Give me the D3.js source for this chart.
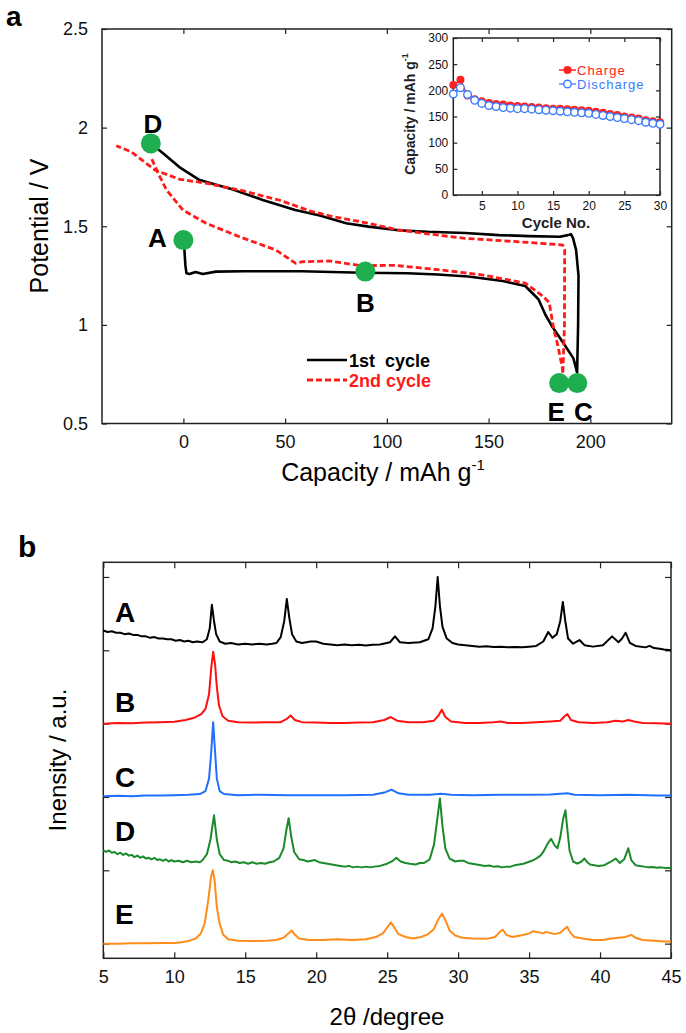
<!DOCTYPE html>
<html>
<head>
<meta charset="utf-8">
<script src="https://cdn.jsdelivr.net/npm/d3@7"></script>
<style>
body { margin: 0; background: #fff; }
svg { font-family: "Liberation Sans", Arial, sans-serif; }
</style>
</head>
<body>
<svg id="fig" width="686" height="1033"></svg>
<script>
// ---- panel a : charge / discharge curves [capacity mAh/g, potential V]
const dis1 = [[0,1.43],[0.5,1.38],[1,1.30],[1.5,1.262],[3,1.258],[6,1.268],[9.5,1.258],[16,1.27],[30,1.272],[58,1.272],[88,1.264],[110,1.262],[125,1.255],[140,1.245],[157,1.222],[168,1.197],[174.5,1.13],[178,1.05],[181,0.996],[187.4,0.898],[191.7,0.83],[193.4,0.763]];
const chg1 = [[193.5,0.755],[194,1.0],[194.2,1.25],[193,1.38],[191.5,1.44],[190.5,1.46],[189,1.455],[185,1.447],[170,1.45],[155,1.455],[138.5,1.466],[120,1.472],[105.7,1.48],[91,1.498],[80,1.515],[67,1.555],[55,1.582],[39,1.633],[22.6,1.692],[8,1.734],[-2,1.80],[-10,1.87],[-16,1.92]];
const dis2 = [[-15.5,1.84],[-12.4,1.768],[-8.3,1.684],[-0.2,1.582],[11.2,1.515],[27.5,1.447],[45.4,1.38],[55.2,1.312],[58.5,1.32],[71.5,1.324],[87.6,1.30],[103.6,1.302],[125,1.28],[146.5,1.254],[168,1.212],[176.6,1.146],[179.8,1.113],[182,0.98],[184,0.896],[186.3,0.78],[186.5,0.755]];
const chg2 = [[186.5,0.76],[187.3,1.0],[187.4,1.38],[186.4,1.405],[170.9,1.417],[138.3,1.439],[122,1.459],[105.7,1.481],[91,1.515],[73,1.55],[63,1.575],[47,1.633],[27.5,1.684],[11.2,1.718],[-1.8,1.738],[-14,1.785],[-25.7,1.878],[-33,1.908]];
const statePoints = [["A",0,1.43],["B",89.4,1.27],["C",193.6,0.705],["D",-16,1.92],["E",184.7,0.705]];
const capTicks = [0,50,100,150,200];
const potTicks = [0.5,1,1.5,2,2.5];

// ---- inset : cycling
const cycles = [1,2,3,4,5,6,7,8,9,10,11,12,13,14,15,16,17,18,19,20,21,22,23,24,25,26,27,28,29,30];
const chargeCap = [210,220,190,183,179,176,174,173,171,170,169,168,167,166,165,165,164,163,162,161,159,157,155,153,150,148,146,143,141,139];
const dischargeCap = [193,205,192,181,175,171,169,167,166,165,165,164,163,162,161,160,159,158,157,156,154,152,150,148,146,144,142,139,137,135];
const cycleTicks = [5,10,15,20,25,30];
const insetCapTicks = [0,50,100,150,200,250,300];

// ---- panel b : XRD patterns [2theta, relative intensity]
const xrdA = [[5,0.27],[5.3,0.25],[5.6,0.26],[5.9,0.24],[6.2,0.24],[6.5,0.22],[6.8,0.23],[7.1,0.21],[7.4,0.21],[7.7,0.19],[8,0.19],[8.3,0.17],[8.6,0.18],[8.9,0.16],[9.2,0.16],[9.5,0.15],[9.8,0.15],[10.1,0.13],[10.4,0.14],[10.7,0.12],[11,0.13],[11.3,0.11],[11.6,0.12],[12,0.11],[12.3,0.15],[12.5,0.3],[12.65,0.62],[12.8,0.4],[12.95,0.22],[13.2,0.12],[13.6,0.09],[14,0.1],[14.5,0.08],[15,0.09],[15.5,0.08],[16,0.09],[16.5,0.08],[16.9,0.09],[17.2,0.1],[17.5,0.18],[17.75,0.4],[17.93,0.7],[18.1,0.45],[18.3,0.22],[18.6,0.12],[19,0.1],[19.6,0.12],[20,0.12],[20.5,0.09],[21,0.08],[21.5,0.07],[22,0.08],[22.5,0.07],[23,0.075],[23.5,0.065],[24,0.075],[24.5,0.08],[25.2,0.11],[25.55,0.19],[25.9,0.11],[26.5,0.1],[27.3,0.11],[27.9,0.15],[28.2,0.3],[28.4,0.6],[28.56,1.0],[28.72,0.6],[28.9,0.32],[29.2,0.16],[29.6,0.1],[30,0.08],[30.5,0.07],[31,0.06],[31.5,0.05],[32,0.055],[32.5,0.045],[33,0.05],[33.5,0.04],[34,0.045],[34.5,0.04],[35,0.05],[35.5,0.06],[36,0.12],[36.35,0.25],[36.65,0.17],[36.95,0.22],[37.2,0.4],[37.38,0.66],[37.55,0.4],[37.75,0.16],[38.1,0.09],[38.55,0.14],[38.9,0.07],[39.5,0.05],[40.2,0.07],[40.85,0.19],[41.3,0.11],[41.55,0.16],[41.8,0.24],[42.1,0.1],[42.5,0.06],[43.2,0.04],[43.5,0.06],[43.8,0.03],[44.2,0.02],[44.5,0.01],[45,0]];
const xrdB = [[5,0],[6,0.01],[7,0.005],[8,0.015],[9,0.02],[10,0.025],[10.8,0.05],[11.4,0.08],[11.9,0.13],[12.2,0.2],[12.45,0.4],[12.6,0.75],[12.74,0.98],[12.88,0.8],[13,0.5],[13.15,0.25],[13.4,0.1],[13.8,0.04],[14.5,0.02],[15.5,0.015],[16.5,0.02],[17.5,0.02],[17.9,0.06],[18.2,0.11],[18.5,0.05],[19,0.02],[20,0.015],[21,0.01],[22,0.01],[23,0.015],[24,0.02],[24.8,0.05],[25.25,0.09],[25.7,0.04],[26.5,0.02],[27.5,0.02],[28.3,0.04],[28.65,0.12],[28.85,0.19],[29.1,0.09],[29.5,0.03],[30.5,0.01],[31.5,0.01],[32.5,0.02],[33,0.03],[33.5,0.01],[34.5,0.01],[35.5,0.02],[36.5,0.03],[37.2,0.04],[37.5,0.1],[37.7,0.13],[37.95,0.05],[38.5,0.02],[39.5,0.01],[40.5,0.02],[41.1,0.04],[41.6,0.03],[42,0.05],[42.4,0.03],[43,0.01],[44,0.005],[45,0]];
const xrdC = [[5,0.01],[6,0.015],[7,0.01],[8,0.02],[9,0.02],[10,0.025],[11,0.03],[11.8,0.04],[12.2,0.08],[12.45,0.25],[12.6,0.6],[12.74,1.02],[12.88,0.6],[13,0.25],[13.2,0.08],[13.5,0.04],[14.5,0.025],[16,0.03],[18,0.025],[20,0.025],[22,0.025],[24,0.03],[24.8,0.06],[25.3,0.1],[25.8,0.05],[26.5,0.03],[28,0.03],[28.8,0.045],[29.5,0.03],[31,0.025],[33,0.03],[35,0.03],[36.5,0.035],[37.7,0.05],[38.2,0.03],[40,0.025],[42,0.03],[44,0.02],[45,0.02]];
const xrdD = [[5,0.27],[5.2,0.25],[5.4,0.27],[5.6,0.24],[5.8,0.25],[6,0.22],[6.2,0.24],[6.4,0.21],[6.6,0.23],[6.8,0.2],[7,0.21],[7.2,0.18],[7.4,0.2],[7.6,0.17],[7.8,0.19],[8,0.16],[8.2,0.17],[8.4,0.15],[8.6,0.17],[8.8,0.14],[9,0.15],[9.2,0.13],[9.4,0.15],[9.6,0.12],[9.8,0.14],[10,0.12],[10.3,0.13],[10.6,0.11],[10.9,0.13],[11.2,0.11],[11.5,0.12],[11.8,0.11],[12,0.14],[12.3,0.22],[12.55,0.42],[12.8,0.75],[13,0.42],[13.2,0.22],[13.5,0.14],[13.8,0.13],[14,0.11],[14.3,0.12],[14.6,0.1],[14.9,0.11],[15.2,0.09],[15.5,0.11],[15.8,0.09],[16.1,0.1],[16.4,0.09],[16.7,0.11],[17,0.12],[17.4,0.17],[17.7,0.3],[17.9,0.55],[18.06,0.71],[18.25,0.45],[18.45,0.25],[18.8,0.15],[19.1,0.14],[19.4,0.12],[19.9,0.14],[20.2,0.11],[20.5,0.1],[20.8,0.09],[21.1,0.08],[21.4,0.07],[21.7,0.06],[22,0.05],[22.3,0.06],[22.6,0.04],[22.9,0.05],[23.2,0.04],[23.5,0.05],[23.8,0.04],[24.1,0.05],[24.5,0.06],[25,0.09],[25.4,0.13],[25.65,0.17],[25.95,0.12],[26.3,0.1],[26.6,0.09],[27,0.08],[27.3,0.1],[27.6,0.1],[28,0.15],[28.3,0.35],[28.5,0.65],[28.72,0.98],[28.9,0.6],[29.1,0.3],[29.4,0.16],[29.8,0.12],[30.1,0.13],[30.4,0.13],[30.7,0.1],[31,0.09],[31.3,0.08],[31.6,0.07],[31.9,0.06],[32.2,0.065],[32.5,0.05],[32.8,0.055],[33.1,0.04],[33.4,0.05],[33.7,0.05],[34,0.07],[34.3,0.08],[34.6,0.09],[34.9,0.11],[35.2,0.13],[35.5,0.16],[35.8,0.2],[36,0.25],[36.3,0.36],[36.55,0.43],[36.8,0.34],[37,0.3],[37.2,0.45],[37.4,0.7],[37.56,0.82],[37.7,0.55],[37.85,0.27],[38.1,0.12],[38.4,0.09],[38.7,0.12],[38.9,0.16],[39.1,0.11],[39.3,0.08],[39.6,0.07],[39.9,0.06],[40.3,0.07],[40.7,0.11],[41.1,0.16],[41.4,0.1],[41.7,0.15],[41.99,0.3],[42.2,0.14],[42.5,0.07],[42.8,0.06],[43.1,0.05],[43.4,0.04],[43.7,0.045],[44,0.035],[44.3,0.04],[44.6,0.03],[45,0.03]];
const xrdE = [[5,0],[6,0],[7,0.005],[8,0.005],[9,0.01],[10,0.01],[10.5,0.02],[11,0.035],[11.5,0.07],[11.85,0.13],[12.15,0.28],[12.4,0.6],[12.6,0.92],[12.72,1.0],[12.85,0.85],[13,0.5],[13.2,0.27],[13.45,0.12],[13.8,0.06],[14.5,0.04],[15.5,0.035],[16.5,0.04],[17.2,0.05],[17.7,0.08],[18,0.13],[18.27,0.18],[18.5,0.12],[18.8,0.07],[19.5,0.05],[20.5,0.05],[21.5,0.06],[22.5,0.05],[23.5,0.06],[24.2,0.09],[24.7,0.14],[25,0.22],[25.27,0.29],[25.5,0.22],[25.8,0.13],[26.3,0.09],[26.8,0.07],[27.4,0.09],[27.9,0.13],[28.3,0.2],[28.6,0.33],[28.87,0.41],[29.1,0.32],[29.4,0.18],[29.8,0.11],[30.3,0.08],[31,0.07],[32,0.065],[32.6,0.09],[33,0.17],[33.15,0.19],[33.4,0.12],[33.8,0.09],[34.4,0.11],[35,0.14],[35.3,0.17],[35.5,0.16],[35.8,0.15],[36,0.14],[36.2,0.16],[36.4,0.15],[36.8,0.13],[37.2,0.15],[37.5,0.2],[37.68,0.23],[37.9,0.15],[38.2,0.09],[38.8,0.07],[39.5,0.05],[40.2,0.05],[40.8,0.07],[41.3,0.08],[41.8,0.09],[42.2,0.12],[42.5,0.08],[43,0.05],[43.8,0.04],[44.5,0.03],[45,0.03]];
const xrdNames = ["A","B","C","D","E"];
const xrdOffsets = [4,3,2,1,0];
const thetaTicks = [5,10,15,20,25,30,35,40,45];
const stackTicks = [0,1,2,3,4,5];

const svg = d3.select("#fig");
const FRAME = "#222";

// boxed axes, ticks pointing inwards on all four sides
function boxAxes(g, x, y, o) {
    const [x0, x1] = x.range(), [y0, y1] = y.range();
    const fmtX = o.xLabels ? d3.format("") : () => "";
    const fmtY = o.yLabels ? d3.format("") : () => "";
    g.append("g").attr("transform", `translate(0,${y0})`)
        .call(d3.axisBottom(x).tickValues(o.xt).tickSize(-o.tick).tickPadding(o.xpad).tickFormat(fmtX));
    g.append("g").attr("transform", `translate(0,${y1})`)
        .call(d3.axisTop(x).tickValues(o.xt).tickSize(-o.tick).tickFormat(() => ""));
    g.append("g").attr("transform", `translate(${x0},0)`)
        .call(d3.axisLeft(y).tickValues(o.yt).tickSize(-o.tick).tickPadding(o.ypad).tickFormat(fmtY));
    g.append("g").attr("transform", `translate(${x1},0)`)
        .call(d3.axisRight(y).tickValues(o.yt).tickSize(-o.tick).tickFormat(() => ""));
    g.selectAll(".domain").remove();
    g.selectAll(".tick line").attr("stroke", FRAME).attr("stroke-width", 1.2);
    g.selectAll(".tick text").attr("font-size", o.fs).attr("fill", "#111")
        .attr("font-family", '"Liberation Sans", Arial, sans-serif');
    g.append("rect")
        .attr("x", x0).attr("y", y1).attr("width", x1 - x0).attr("height", y0 - y1)
        .attr("fill", "none").attr("stroke", FRAME).attr("stroke-width", 1.5);
}

// ================= panel a =================
const ax = d3.scaleLinear().domain([-40, 240]).range([102, 671.7]);
const ay = d3.scaleLinear().domain([0.5, 2.5]).range([423.5, 29]);
const ga = svg.append("g");
boxAxes(ga, ax, ay, {xt: capTicks, yt: potTicks, tick: 5, xpad: 12, ypad: 14, fs: 18, xLabels: true, yLabels: true});

const lineA = d3.line().x(d => ax(d[0])).y(d => ay(d[1]));
[dis1, chg1].forEach(s => ga.append("path").datum(s).attr("d", lineA)
    .attr("fill", "none").attr("stroke", "#000").attr("stroke-width", 2.6).attr("stroke-linejoin", "round"));
[dis2, chg2].forEach(s => ga.append("path").datum(s).attr("d", lineA)
    .attr("fill", "none").attr("stroke", "#ff1a1a").attr("stroke-width", 2.8).attr("stroke-dasharray", "6,3"));

// state markers
const markLabelPos = {A: [-26, 7, "middle"], B: [0, 40, "middle"], C: [6, 38, "middle"], D: [2, -10, "middle"], E: [-3, 38, "middle"]};
ga.selectAll(".state").data(statePoints).enter().append("circle")
    .attr("cx", d => ax(d[1])).attr("cy", d => ay(d[2])).attr("r", 10).attr("fill", "#1fae4f");
ga.selectAll(".stateLbl").data(statePoints).enter().append("text")
    .attr("x", d => ax(d[1]) + markLabelPos[d[0]][0])
    .attr("y", d => ay(d[2]) + markLabelPos[d[0]][1])
    .attr("text-anchor", d => markLabelPos[d[0]][2])
    .attr("font-size", 26).attr("font-weight", "bold").text(d => d[0]);

// legend
const leg = ga.append("g");
leg.append("line").attr("x1", 307).attr("x2", 347).attr("y1", 360).attr("y2", 360).attr("stroke", "#000").attr("stroke-width", 2.6);
leg.append("text").attr("x", 349).attr("y", 367).attr("font-size", 18).attr("font-weight", "bold").attr("xml:space", "preserve").text("1st  cycle");
leg.append("line").attr("x1", 307).attr("x2", 347).attr("y1", 380).attr("y2", 380).attr("stroke", "#ff1a1a").attr("stroke-width", 2.8).attr("stroke-dasharray", "6,3");
leg.append("text").attr("x", 349).attr("y", 387).attr("font-size", 18).attr("font-weight", "bold").attr("fill", "#ff1a1a").text("2nd cycle");

// axis titles
const capTitle = ga.append("text").attr("x", 383).attr("y", 481).attr("text-anchor", "middle").attr("font-size", 25);
capTitle.append("tspan").text("Capacity / mAh g");
capTitle.append("tspan").attr("font-size", 15).attr("dy", -11).text("-1");
ga.append("text").attr("transform", "translate(39,226) rotate(-90)").attr("dy", "0.35em")
    .attr("text-anchor", "middle").attr("font-size", 25).text("Potential / V");
svg.append("text").attr("x", 6).attr("y", 26).attr("font-size", 28).attr("font-weight", "bold").text("a");

// ================= inset =================
const ix = d3.scaleLinear().domain([1, 30]).range([453.3, 660]);
const iy = d3.scaleLinear().domain([0, 300]).range([195, 38]);
const gi = svg.append("g");
gi.append("rect").attr("x", 453.3).attr("y", 38).attr("width", 660 - 453.3).attr("height", 157).attr("fill", "#fff");
boxAxes(gi, ix, iy, {xt: cycleTicks, yt: insetCapTicks, tick: 4, xpad: 6, ypad: 5, fs: 12, xLabels: true, yLabels: true});

const chargeData = cycles.map((c, i) => [c, chargeCap[i]]);
const dischargeData = cycles.map((c, i) => [c, dischargeCap[i]]);
const lineI = d3.line().x(d => ix(d[0])).y(d => iy(d[1]));
gi.append("path").datum(chargeData).attr("d", lineI).attr("fill", "none").attr("stroke", "#ff2020").attr("stroke-width", 1.5);
gi.selectAll(".chg").data(chargeData).enter().append("circle")
    .attr("cx", d => ix(d[0])).attr("cy", d => iy(d[1])).attr("r", 4).attr("fill", "#ff2020");
gi.append("path").datum(dischargeData).attr("d", lineI).attr("fill", "none").attr("stroke", "#3a7aff").attr("stroke-width", 1.3);
gi.selectAll(".dis").data(dischargeData).enter().append("circle")
    .attr("cx", d => ix(d[0])).attr("cy", d => iy(d[1])).attr("r", 3.8)
    .attr("fill", "#fff").attr("stroke", "#3a7aff").attr("stroke-width", 1.4);

// inset legend
gi.append("line").attr("x1", 559).attr("x2", 576).attr("y1", 70).attr("y2", 70).attr("stroke", "#ff2020").attr("stroke-width", 1.5);
gi.append("circle").attr("cx", 567.5).attr("cy", 70).attr("r", 4).attr("fill", "#ff2020");
gi.append("text").attr("x", 577).attr("y", 74.5).attr("font-size", 13).attr("letter-spacing", 1).attr("fill", "#ff2020").text("Charge");
gi.append("line").attr("x1", 559).attr("x2", 576).attr("y1", 84).attr("y2", 84).attr("stroke", "#3a7aff").attr("stroke-width", 1.3);
gi.append("circle").attr("cx", 567.5).attr("cy", 84).attr("r", 3.8).attr("fill", "#fff").attr("stroke", "#3a7aff").attr("stroke-width", 1.4);
gi.append("text").attr("x", 577).attr("y", 88.5).attr("font-size", 13).attr("letter-spacing", 1).attr("fill", "#3a7aff").text("Discharge");

gi.append("text").attr("x", 556).attr("y", 228).attr("text-anchor", "middle").attr("font-size", 15).attr("font-weight", "bold").attr("fill", "#222").text("Cycle No.");
const icap = gi.append("text").attr("transform", "translate(410,114) rotate(-90)").attr("dy", "0.35em")
    .attr("text-anchor", "middle").attr("font-size", 14).attr("font-weight", "bold").attr("fill", "#222");
icap.append("tspan").text("Capacity / mAh g");
icap.append("tspan").attr("font-size", 9).attr("dy", -7).text("-1");

// ================= panel b =================
const bx = d3.scaleLinear().domain([5, 45]).range([103.3, 671]);
const by = d3.scaleLinear().domain([-0.2, 5.2]).range([958.3, 562.3]);
const gb = svg.append("g");
boxAxes(gb, bx, by, {xt: thetaTicks, yt: stackTicks, tick: 6, xpad: 12, ypad: 5, fs: 18, xLabels: true, yLabels: false});

const xrdColors = ["#000000", "#ff1010", "#2070ff", "#1a8a2a", "#ff8c1a"];
const xrdLabelY = [622, 712, 787, 841, 924];
[xrdA, xrdB, xrdC, xrdD, xrdE].forEach((s, i) => {
    const off = xrdOffsets[i];
    gb.append("path").datum(s)
        .attr("d", d3.line().x(d => bx(d[0])).y(d => by(d[1] + off)))
        .attr("fill", "none").attr("stroke", xrdColors[i]).attr("stroke-width", 2).attr("stroke-linejoin", "round");
    gb.append("text").attr("x", 115).attr("y", xrdLabelY[i])
        .attr("font-size", 28).attr("font-weight", "bold").text(xrdNames[i]);
});

gb.append("text").attr("x", 387).attr("y", 1025).attr("text-anchor", "middle").attr("font-size", 24).text("2θ /degree");
gb.append("text").attr("transform", "translate(58,760) rotate(-90)").attr("dy", "0.35em")
    .attr("text-anchor", "middle").attr("font-size", 24).text("Inensity / a.u.");
svg.append("text").attr("x", 18).attr("y", 557).attr("font-size", 30).attr("font-weight", "bold").text("b");
</script>
</body>
</html>
